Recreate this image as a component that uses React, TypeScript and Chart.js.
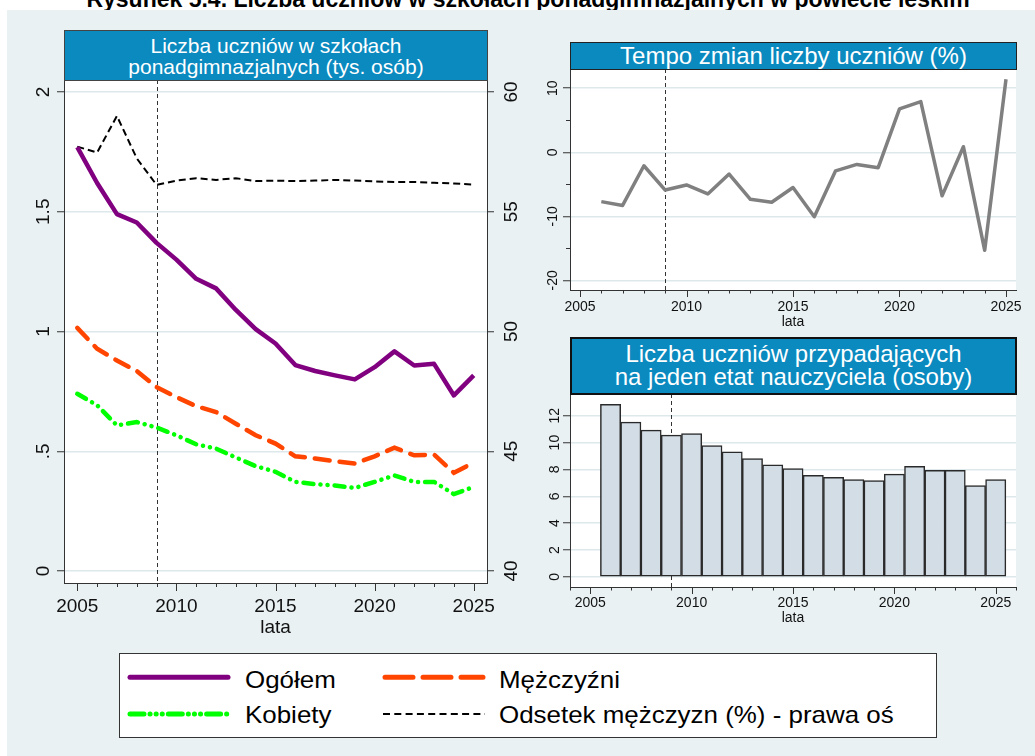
import React, { useEffect, useRef } from 'react';
import { Chart, registerables } from 'chart.js';

Chart.register(...registerables);

const FONT = '"Liberation Sans", Arial, Helvetica, sans-serif';

// ---------- data ----------
const YEARS = [2005, 2006, 2007, 2008, 2009, 2010, 2011, 2012, 2013, 2014, 2015, 2016, 2017, 2018, 2019, 2020, 2021, 2022, 2023, 2024, 2025];
const OGOLEM = [1.77, 1.62, 1.49, 1.455, 1.37, 1.3, 1.22, 1.18, 1.09, 1.01, 0.95, 0.86, 0.835, 0.817, 0.8, 0.851, 0.917, 0.858, 0.865, 0.733, 0.817];
const MEZCZYZNI = [1.015, 0.928, 0.879, 0.835, 0.768, 0.726, 0.688, 0.664, 0.615, 0.567, 0.532, 0.479, 0.47, 0.458, 0.449, 0.479, 0.515, 0.483, 0.486, 0.41, 0.453];
const KOBIETY = [0.74, 0.692, 0.608, 0.622, 0.599, 0.567, 0.529, 0.511, 0.474, 0.438, 0.414, 0.372, 0.363, 0.357, 0.347, 0.372, 0.399, 0.372, 0.372, 0.321, 0.351];
const ODSETEK = [57.72, 57.47, 59.0, 57.23, 56.12, 56.3, 56.4, 56.33, 56.4, 56.28, 56.3, 56.28, 56.3, 56.33, 56.3, 56.27, 56.24, 56.24, 56.21, 56.18, 56.13];

const TEMPO_YEARS = [2006, 2007, 2008, 2009, 2010, 2011, 2012, 2013, 2014, 2015, 2016, 2017, 2018, 2019, 2020, 2021, 2022, 2023, 2024, 2025];
const TEMPO = [-7.7, -8.3, -2.1, -5.9, -5.1, -6.5, -3.4, -7.35, -7.8, -5.5, -10.06, -2.9, -1.9, -2.4, 6.77, 7.9, -6.8, 0.87, -15.3, 11.4];

const RATIO_YEARS = [2006, 2007, 2008, 2009, 2010, 2011, 2012, 2013, 2014, 2015, 2016, 2017, 2018, 2019, 2020, 2021, 2022, 2023, 2024, 2025];
const RATIO = [12.85, 11.53, 10.93, 10.56, 10.68, 9.78, 9.31, 8.81, 8.34, 8.07, 7.57, 7.42, 7.25, 7.17, 7.65, 8.24, 7.94, 7.94, 6.8, 7.25];

const X_TICKS = [2005, 2010, 2015, 2020, 2025];
const LEFT_Y_TICKS = [0, 0.5, 1, 1.5, 2];
const LEFT_Y_LABELS = ['0', '.5', '1', '1.5', '2'];
const RIGHT_Y_TICKS = [40, 45, 50, 55, 60];
const RIGHT_Y_LABELS = ['40', '45', '50', '55', '60'];
const TEMPO_Y_TICKS = [-20, -10, 0, 10];
const TEMPO_Y_LABELS = ['-20', '-10', '0', '10'];
const TEMPO_Y_MINOR = [-15, -5, 5];
const RATIO_Y_TICKS = [0, 2, 4, 6, 8, 10, 12];
const RATIO_Y_LABELS = ['0', '2', '4', '6', '8', '10', '12'];

const VLINE_YEAR = 2009;

const TITLE = 'Rysunek 5.4. Liczba uczniów w szkołach ponadgimnazjalnych w powiecie leskim';
const LEFT_HEADER = ['Liczba uczniów w szkołach', 'ponadgimnazjalnych (tys. osób)'];
const TEMPO_HEADER = 'Tempo zmian liczby uczniów (%)';
const RATIO_HEADER = ['Liczba uczniów przypadających', 'na jeden etat nauczyciela (osoby)'];
const X_TITLE = 'lata';
const LEGEND_LABELS = ['Ogółem', 'Mężczyźni', 'Kobiety', 'Odsetek mężczyzn (%) - prawa oś'];

// ---------- styles ----------
const OUTER_BG = '#e9f1f3';
const HEADER_BG = '#0a8abf';
const GRID = '#dde8eb';
const AXIS = '#333333';
const TEXT = '#111111';
const PURPLE = '#800080';
const ORANGE = '#ff4500';
const GREEN = '#00ff00';
const GREY = '#808080';
const BAR_FILL = '#d3dde6';

type RotLabels = { axis: string; side: 'left' | 'right'; offset: number; size: number; values: number[]; labels: string[] };
type PluginCfg = { majorLen: number; minorLen: number; yMinor?: number[]; yMinorLen?: number; rot: RotLabels[] };

function makeStataPlugin(cfg: PluginCfg) {
  return {
    id: 'stata',
    beforeDraw(chart: any) {
      const { ctx, chartArea: ca } = chart;
      ctx.save();
      ctx.fillStyle = '#ffffff';
      ctx.fillRect(ca.left, ca.top, ca.right - ca.left, ca.bottom - ca.top);
      ctx.restore();
    },
    beforeDatasetsDraw(chart: any) {
      const { ctx, chartArea: ca } = chart;
      const xs = chart.scales.x;
      const px = Math.round(xs.getPixelForValue(VLINE_YEAR)) + 0.5;
      ctx.save();
      ctx.strokeStyle = AXIS;
      ctx.lineWidth = 1;
      ctx.setLineDash([4, 3]);
      ctx.beginPath();
      ctx.moveTo(px, ca.top);
      ctx.lineTo(px, ca.bottom);
      ctx.stroke();
      ctx.restore();
    },
    afterDraw(chart: any) {
      const { ctx, chartArea: ca } = chart;
      const xs = chart.scales.x;
      ctx.save();
      ctx.strokeStyle = AXIS;
      ctx.lineWidth = 1;
      for (let yr = Math.ceil(xs.min); yr <= Math.floor(xs.max); yr++) {
        const px = Math.round(xs.getPixelForValue(yr)) + 0.5;
        const len = yr % 5 === 0 ? cfg.majorLen : cfg.minorLen;
        ctx.beginPath();
        ctx.moveTo(px, ca.bottom);
        ctx.lineTo(px, ca.bottom + len);
        ctx.stroke();
      }
      if (cfg.yMinor) {
        const ys = chart.scales.y;
        for (const v of cfg.yMinor) {
          const py = Math.round(ys.getPixelForValue(v)) + 0.5;
          ctx.beginPath();
          ctx.moveTo(ca.left - (cfg.yMinorLen || 4), py);
          ctx.lineTo(ca.left, py);
          ctx.stroke();
        }
      }
      ctx.fillStyle = TEXT;
      for (const r of cfg.rot) {
        const sc = chart.scales[r.axis];
        ctx.font = `${r.size}px ${FONT}`;
        ctx.textAlign = 'center';
        ctx.textBaseline = 'alphabetic';
        r.values.forEach((v, i) => {
          const py = sc.getPixelForValue(v);
          const x = r.side === 'left' ? ca.left - r.offset : ca.right + r.offset;
          ctx.save();
          ctx.translate(x, py);
          ctx.rotate(-Math.PI / 2);
          ctx.fillText(r.labels[i], 0, 0);
          ctx.restore();
        });
      }
      ctx.restore();
    },
  };
}

function xAxis(min: number, max: number, size: number, pad: number, height: number) {
  return {
    type: 'linear',
    min,
    max,
    offset: false,
    grid: { display: false, drawTicks: false, offset: false },
    border: { display: true, color: AXIS, width: 1 },
    ticks: {
      font: { family: FONT, size },
      color: TEXT,
      padding: pad,
      autoSkip: false,
      maxRotation: 0,
      minRotation: 0,
      callback: (v: any) => String(v),
    },
    afterBuildTicks: (s: any) => {
      s.ticks = X_TICKS.map((v) => ({ value: v }));
    },
    afterFit: (s: any) => {
      s.height = height;
    },
    title: { display: true, text: X_TITLE, font: { family: FONT, size }, color: TEXT, padding: 0 },
  };
}

function yAxis(position: string, min: number, max: number, ticks: number[], width: number, onArea: boolean) {
  return {
    type: 'linear',
    position,
    min,
    max,
    grid: {
      display: true,
      drawOnChartArea: onArea,
      color: GRID,
      lineWidth: 1.5,
      drawTicks: true,
      tickLength: 7,
      tickColor: AXIS,
      tickWidth: 1,
    },
    border: { display: true, color: AXIS, width: 1 },
    ticks: { display: false },
    afterBuildTicks: (s: any) => {
      s.ticks = ticks.map((v) => ({ value: v }));
    },
    afterFit: (s: any) => {
      s.width = width;
    },
  };
}

function pts(xs: number[], ys: number[]) {
  return xs.map((x, i) => ({ x, y: ys[i] }));
}

export default function App() {
  const leftRef = useRef<HTMLCanvasElement>(null);
  const tempoRef = useRef<HTMLCanvasElement>(null);
  const ratioRef = useRef<HTMLCanvasElement>(null);

  useEffect(() => {
    const charts: Chart[] = [];

    charts.push(
      new Chart(leftRef.current as HTMLCanvasElement, {
        type: 'line',
        data: {
          datasets: [
            {
              label: LEGEND_LABELS[0],
              data: pts(YEARS, OGOLEM),
              yAxisID: 'y',
              borderColor: PURPLE,
              borderWidth: 4.5,
              pointRadius: 0,
              borderJoinStyle: 'round',
            },
            {
              label: LEGEND_LABELS[1],
              data: pts(YEARS, MEZCZYZNI),
              yAxisID: 'y',
              borderColor: ORANGE,
              borderWidth: 4.5,
              borderDash: [15, 10],
              borderCapStyle: 'round',
              pointRadius: 0,
            },
            {
              label: LEGEND_LABELS[2],
              data: pts(YEARS, KOBIETY),
              yAxisID: 'y',
              borderColor: GREEN,
              borderWidth: 4.5,
              borderDash: [10, 7, 0.1, 7, 0.1, 7],
              borderCapStyle: 'round',
              pointRadius: 0,
            },
            {
              label: LEGEND_LABELS[3],
              data: pts(YEARS, ODSETEK),
              yAxisID: 'y1',
              borderColor: '#000000',
              borderWidth: 2,
              borderDash: [7, 4],
              pointRadius: 0,
            },
          ],
        },
        options: {
          animation: false,
          responsive: false,
          layout: { padding: { top: 5, left: 0, right: 0, bottom: 6 } },
          plugins: { legend: { display: false }, tooltip: { enabled: false }, title: { display: false } },
          scales: {
            x: xAxis(2004.33, 2025.67, 19, 12.6, 56) as any,
            y: yAxis('left', -0.05, 2.05, LEFT_Y_TICKS, 64, true) as any,
            y1: yAxis('right', 39.5, 60.5, RIGHT_Y_TICKS, 43, false) as any,
          },
        },
        plugins: [
          makeStataPlugin({
            majorLen: 8,
            minorLen: 4,
            rot: [
              { axis: 'y', side: 'left', offset: 14.7, size: 19, values: LEFT_Y_TICKS, labels: LEFT_Y_LABELS },
              { axis: 'y1', side: 'right', offset: 30, size: 19, values: RIGHT_Y_TICKS, labels: RIGHT_Y_LABELS },
            ],
          }),
        ],
      } as any)
    );

    charts.push(
      new Chart(tempoRef.current as HTMLCanvasElement, {
        type: 'line',
        data: {
          datasets: [
            {
              label: TEMPO_HEADER,
              data: pts(TEMPO_YEARS, TEMPO),
              borderColor: GREY,
              borderWidth: 3.5,
              pointRadius: 0,
              borderJoinStyle: 'round',
            },
          ],
        },
        options: {
          animation: false,
          responsive: false,
          layout: { padding: { top: 5, left: 0, right: 19, bottom: 0 } },
          plugins: { legend: { display: false }, tooltip: { enabled: false } },
          scales: {
            x: xAxis(2004.53, 2025.47, 14, 8.9, 41) as any,
            y: yAxis('left', -21.5, 13, TEMPO_Y_TICKS, 40, true) as any,
          },
        },
        plugins: [
          makeStataPlugin({
            majorLen: 7,
            minorLen: 3.5,
            yMinor: TEMPO_Y_MINOR,
            yMinorLen: 4,
            rot: [{ axis: 'y', side: 'left', offset: 13.3, size: 14, values: TEMPO_Y_TICKS, labels: TEMPO_Y_LABELS }],
          }),
        ],
      } as any)
    );

    charts.push(
      new Chart(ratioRef.current as HTMLCanvasElement, {
        type: 'bar',
        data: {
          datasets: [
            {
              label: RATIO_HEADER.join(' '),
              data: pts(RATIO_YEARS, RATIO),
              backgroundColor: BAR_FILL,
              borderColor: '#2a2a2a',
              borderWidth: 1.5,
              borderSkipped: false,
              barPercentage: 1,
              categoryPercentage: 1,
            },
          ],
        },
        options: {
          animation: false,
          responsive: false,
          layout: { padding: { top: 5, left: 0, right: 19, bottom: 0 } },
          plugins: { legend: { display: false }, tooltip: { enabled: false } },
          scales: {
            x: xAxis(2004, 2026, 14, 8.2, 40) as any,
            y: yAxis('left', -0.75, 13.62, RATIO_Y_TICKS, 40, true) as any,
          },
        },
        plugins: [
          makeStataPlugin({
            majorLen: 7,
            minorLen: 3.5,
            rot: [{ axis: 'y', side: 'left', offset: 10.7, size: 14, values: RATIO_Y_TICKS, labels: RATIO_Y_LABELS }],
          }),
        ],
      } as any)
    );

    return () => charts.forEach((c) => c.destroy());
  }, []);

  const abs = (left: number, top: number, width: number, height: number): React.CSSProperties => ({
    position: 'absolute',
    left,
    top,
    width,
    height,
    boxSizing: 'border-box',
  });

  const headerStyle = (border: string, size: number, lh: number): React.CSSProperties => ({
    background: HEADER_BG,
    border,
    color: '#ffffff',
    fontFamily: FONT,
    fontSize: size,
    lineHeight: `${lh}px`,
    textAlign: 'center',
    display: 'flex',
    flexDirection: 'column',
    justifyContent: 'center',
    whiteSpace: 'nowrap',
  });

  const legendText = (left: number, top: number, text: string) => (
    <div
      style={{
        position: 'absolute',
        left,
        top,
        fontFamily: FONT,
        fontSize: 24,
        lineHeight: '24px',
        color: '#000',
        whiteSpace: 'nowrap',
        transform: 'scaleX(1.08)',
        transformOrigin: 'left center',
      }}
    >
      {text}
    </div>
  );

  return (
    <div style={{ position: 'absolute', left: 0, top: 0, width: 1035, height: 756, overflow: 'hidden', background: '#ffffff' }}>
      <div
        style={{
          position: 'absolute',
          left: 28,
          top: -12.5,
          width: 1000,
          textAlign: 'center',
          fontFamily: FONT,
          fontWeight: 'bold',
          fontSize: 23,
          lineHeight: '23px',
          color: '#000',
          whiteSpace: 'nowrap',
        }}
      >
        {TITLE}
      </div>
      <div style={{ ...abs(7, 10, 1028, 746), background: OUTER_BG }} />

      <canvas ref={leftRef} width={530} height={570} style={{ position: 'absolute', left: 0, top: 75 }} />
      <canvas ref={tempoRef} width={505} height={267} style={{ position: 'absolute', left: 530, top: 64 }} />
      <canvas ref={ratioRef} width={505} height={238} style={{ position: 'absolute', left: 530, top: 389 }} />

      <div style={{ ...abs(64, 30, 424, 51), ...headerStyle('1px solid #444', 21, 21) }}>
        <div>{LEFT_HEADER[0]}</div>
        <div>{LEFT_HEADER[1]}</div>
      </div>
      <div style={{ ...abs(570, 42, 447, 28), ...headerStyle('1px solid #222', 24, 26) }}>
        <div>{TEMPO_HEADER}</div>
      </div>
      <div style={{ ...abs(570, 337, 447, 58), ...headerStyle('2px solid #111', 24, 22.7) }}>
        <div>{RATIO_HEADER[0]}</div>
        <div>{RATIO_HEADER[1]}</div>
      </div>

      <div style={{ ...abs(119, 653, 818, 85), background: '#ffffff', border: '1px solid #333' }}>
        <svg width={816} height={83} style={{ position: 'absolute', left: 0, top: 0 }}>
          <line x1={10} y1={23.3} x2={108} y2={23.3} stroke={PURPLE} strokeWidth={5} strokeLinecap="round" />
          <line x1={265} y1={23.3} x2={363} y2={23.3} stroke={ORANGE} strokeWidth={5} strokeLinecap="round" strokeDasharray="28 10" />
          <line x1={10} y1={60} x2={108} y2={60} stroke={GREEN} strokeWidth={5} strokeLinecap="round" strokeDasharray="14 6 0.1 6 0.1 6 0.1 6" />
          <line x1={263} y1={60} x2={365} y2={60} stroke="#000" strokeWidth={2} strokeDasharray="7 4.3" />
        </svg>
        {legendText(124.6, 14.3, LEGEND_LABELS[0])}
        {legendText(379, 14.3, LEGEND_LABELS[1])}
        {legendText(124.6, 49.3, LEGEND_LABELS[2])}
        {legendText(379, 49.3, LEGEND_LABELS[3])}
      </div>
    </div>
  );
}
